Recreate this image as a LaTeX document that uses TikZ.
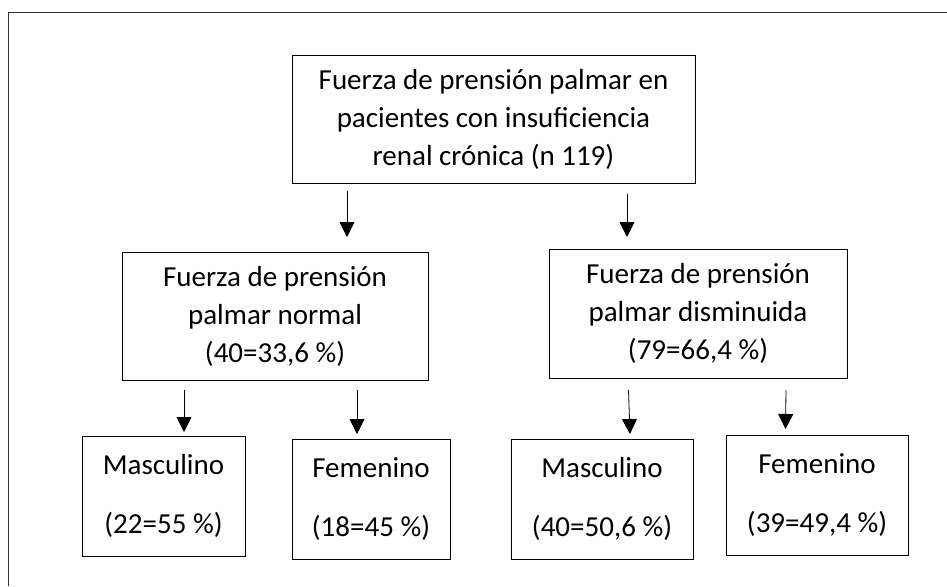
\documentclass[tikz,border=0pt]{standalone}
\usepackage{fontspec}
\setmainfont{Carlito}
\usetikzlibrary{arrows.meta}
\begin{document}
\begin{tikzpicture}[x=1pt,y=-1pt,
  box/.style={draw=black,line width=0.9pt,rectangle,align=center,inner sep=0pt,
    font=\fontsize{29}{38}\selectfont},
  arr/.style={draw=black,line width=0.8pt,-{Triangle[length=15pt,width=15pt]}},
  frame/.style={draw=black!80,line width=0.9pt}]
\useasboundingbox (0,0) rectangle (947,586);
\fill[white] (0,0) rectangle (947,586);
\coordinate (fTL) at (8,12);
\coordinate (fTR) at (947,12);
\coordinate (fBL) at (8,586);
\draw[frame] (fTR) -- (fTL) -- (fBL);

\node[box,minimum width=403pt,minimum height=128pt] (top) at (493.5,119)
  {Fuerza de prensión palmar en\\pacientes con insuficiencia\\renal crónica (n 119)};
\node[box,minimum width=306pt,minimum height=128pt] (midL) at (275,316)
  {Fuerza de prensión\\palmar normal\\(40=33,6 \%)};
\node[box,minimum width=298pt,minimum height=129pt] (midR) at (698,313.5)
  {Fuerza de prensión\\palmar disminuida\\(79=66,4 \%)};
\node[box,minimum width=163pt,minimum height=120pt] (m1) at (163.5,496)
  {Masculino\\[21pt](22=55 \%)};
\node[box,minimum width=158pt,minimum height=120pt] (f1) at (371,499)
  {Femenino\\[21pt](18=45 \%)};
\node[box,minimum width=182pt,minimum height=120pt] (m2) at (602,499)
  {Masculino\\[21pt](40=50,6 \%)};
\node[box,minimum width=182pt,minimum height=120pt] (f2) at (817,495)
  {Femenino\\[21pt](39=49,4 \%)};

\coordinate (a1s) at (347,191); \coordinate (a1e) at (347,237);
\coordinate (a2s) at (627,194); \coordinate (a2e) at (627,237);
\coordinate (b1s) at (184,390); \coordinate (b1e) at (184,432);
\coordinate (b2s) at (357,390); \coordinate (b2e) at (357,434);
\coordinate (b3s) at (628.5,390); \coordinate (b3e) at (630,434);
\coordinate (b4s) at (786,390); \coordinate (b4e) at (785.5,429);
\draw[arr] (a1s) -- (a1e);
\draw[arr] (a2s) -- (a2e);
\draw[arr] (b1s) -- (b1e);
\draw[arr] (b2s) -- (b2e);
\draw[arr] (b3s) -- (b3e);
\draw[arr] (b4s) -- (b4e);
\end{tikzpicture}
\end{document}
